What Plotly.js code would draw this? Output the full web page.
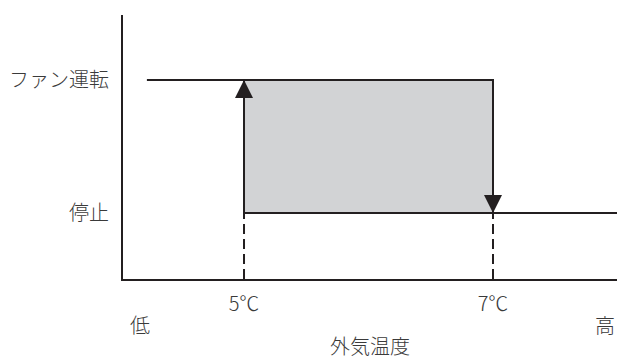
<!DOCTYPE html>
<html>
<head>
<meta charset="utf-8">
<script src="https://cdn.plot.ly/plotly-3.0.1.min.js"></script>
<style>html,body{margin:0;padding:0;background:#fff;}</style>
</head>
<body>
<div id="chart" style="width:617px;height:360px;"></div>
<script>
// Data
const stateLabels = ['停止', 'ファン運転'];
const stateValues = [0, 1];
const tempLabels = ['5℃', '7℃'];
const onTemp = 5;   // fan turns on (rising arrow)
const offTemp = 7;  // fan stops (falling arrow)
const lowHighLabels = ['低', '高'];
const axisTitle = '外気温度';
const xRange = [4.028, 7.996];
const yRange = [-0.496, 1.489];
const topLineStart = 4.22;
const lowPos = 4.165, highPos = 7.90;

const ink = '#231f20';
const OFF = stateValues[0], ON = stateValues[1];

const traces = [
  { // hysteresis fill
    x: [onTemp, offTemp, offTemp, onTemp], y: [OFF, OFF, ON, ON],
    mode: 'lines', fill: 'toself', fillcolor: '#d2d3d5',
    line: {width: 0}, hoverinfo: 'skip', showlegend: false
  },
  { // top line (running) + falling edge
    x: [topLineStart, offTemp, offTemp], y: [ON, ON, OFF],
    mode: 'lines', line: {color: ink, width: 2}, showlegend: false
  },
  { // bottom line (stopped) + rising edge
    x: [xRange[1], onTemp, onTemp], y: [OFF, OFF, ON],
    mode: 'lines', line: {color: ink, width: 2}, showlegend: false
  },
  { // dashed guides
    x: [onTemp, onTemp, null, offTemp, offTemp], y: [yRange[0], OFF, null, yRange[0], OFF],
    mode: 'lines', line: {color: ink, width: 2, dash: '10px,5px'}, showlegend: false
  },
  { // arrow up
    x: [onTemp], y: [ON], mode: 'markers',
    marker: {symbol: 'arrow-up', size: 18, color: ink, line: {width: 0}}, showlegend: false
  },
  { // arrow down
    x: [offTemp], y: [OFF], mode: 'markers',
    marker: {symbol: 'arrow-down', size: 18, color: ink, line: {width: 0}}, showlegend: false
  }
];

const font = {family: '"Noto Sans CJK JP", "Noto Sans", sans-serif', size: 20, color: '#3a3a3a', weight: 300};

const layout = {
  width: 617, height: 360,
  margin: {l: 123, r: 0, t: 15, b: 81},
  paper_bgcolor: '#fff', plot_bgcolor: '#fff',
  font: font,
  showlegend: false,
  xaxis: {
    range: xRange, showgrid: false, zeroline: false,
    showline: true, linecolor: ink, linewidth: 2,
    tickvals: [onTemp, offTemp], ticktext: tempLabels,
    ticks: 'outside', ticklen: 6, tickcolor: 'rgba(0,0,0,0)',
    tickfont: font,
    title: {text: axisTitle, font: font, standoff: 34},
    fixedrange: true
  },
  yaxis: {
    range: yRange, showgrid: false, zeroline: false,
    showline: true, linecolor: ink, linewidth: 2,
    tickvals: stateValues, ticktext: stateLabels,
    ticks: 'outside', ticklen: 8, tickcolor: 'rgba(0,0,0,0)',
    tickfont: font, fixedrange: true
  },
  annotations: [
    {x: lowPos, y: -0.174, xref: 'x', yref: 'paper', text: lowHighLabels[0], showarrow: false, font: font, xanchor: 'center', yanchor: 'middle'},
    {x: highPos, y: -0.174, xref: 'x', yref: 'paper', text: lowHighLabels[1], showarrow: false, font: font, xanchor: 'center', yanchor: 'middle'}
  ]
};

Plotly.newPlot('chart', traces, layout, {staticPlot: true, displayModeBar: false});
</script>
</body>
</html>
